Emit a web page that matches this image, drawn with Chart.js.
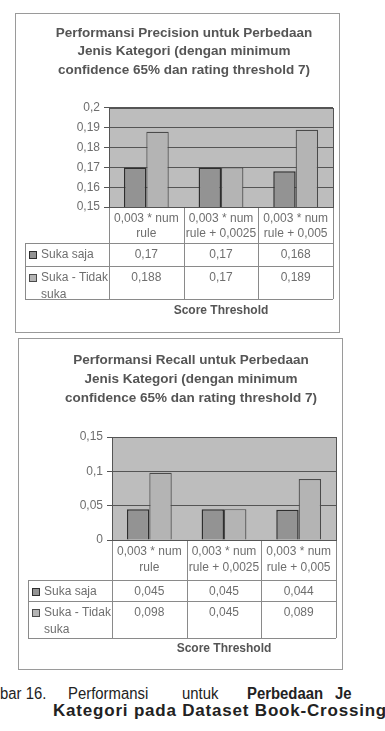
<!DOCTYPE html>
<html>
<head>
<meta charset="utf-8">
<script src="https://cdn.jsdelivr.net/npm/chart.js@4/dist/chart.umd.min.js"></script>
<style>
  body { margin: 0; background: #fff; width: 385px; height: 731px; overflow: hidden; position: relative; font-family: Arial, "Liberation Sans", sans-serif; }
  .box { position: absolute; border: 1px solid #9a9a9a; background: #fff; }
  #box1 { left: 15px; top: 13px; width: 323px; height: 318px; }
  #box2 { left: 18px; top: 338px; width: 323px; height: 330px; }
  canvas { display: block; }
  .cap { position: absolute; color: #222; white-space: nowrap; font-size: 16px; line-height: 18px; transform-origin: left center; transform: scaleX(0.93); }
  .cap.b { font-weight: bold; }
  #cap2 { left: 53px; top: 702px; font-size: 17px; font-weight: bold; letter-spacing: 0.8px; transform: none; }
</style>
</head>
<body>
<div class="box" id="box1"><canvas id="precisionChart" width="323" height="318"></canvas></div>
<div class="box" id="box2"><canvas id="recallChart" width="323" height="330"></canvas></div>

<div class="cap" style="left:0px; top:685px;">bar 16.</div>
<div class="cap" style="left:68px; top:685px;">Performansi</div>
<div class="cap" style="left:182px; top:685px;">untuk</div>
<div class="cap b" style="left:247px; top:685px;">Perbedaan</div>
<div class="cap b" style="left:335px; top:685px;">Je</div>
<div class="cap" id="cap2">Kategori pada Dataset Book-Crossing</div>

<script>
// data
const categories = [
  ["0,003 * num", "rule"],
  ["0,003 * num", "rule + 0,0025"],
  ["0,003 * num", "rule + 0,005"],
];
const seriesNames = ["Suka saja", "Suka - Tidak suka"];
const tableLabels = [["Suka saja"], ["Suka - Tidak", "suka"]];

const precisionSukaSaja = [0.17, 0.17, 0.168];
const precisionSukaTidak = [0.188, 0.17, 0.189];
const recallSukaSaja = [0.045, 0.045, 0.044];
const recallSukaTidak = [0.098, 0.045, 0.089];

const precisionTitle = [
  "Performansi Precision untuk Perbedaan",
  "Jenis Kategori (dengan minimum",
  "confidence 65% dan rating threshold 7)",
];
const recallTitle = [
  "Performansi Recall untuk Perbedaan",
  "Jenis Kategori (dengan minimum",
  "confidence 65% dan rating threshold 7)",
];
const xAxisTitle = "Score Threshold";

const FONT = 'Arial, "Liberation Sans", sans-serif';
const TEXT = "#6e6e6e";
const LINE = "#555555";

Chart.defaults.font.family = FONT;
Chart.defaults.color = TEXT;

// angka pakai koma
function fmt(v) {
  return Number(v.toFixed(3)).toString().replace(".", ",");
}

// tabel data di bawah sumbu x (legend + nilai)
const dataTable = {
  id: "dataTable",
  beforeDraw(chart, args, opts) {
    const { ctx, chartArea: a } = chart;
    ctx.save();
    ctx.fillStyle = opts.plotColor;
    ctx.fillRect(a.left, a.top, a.right - a.left, a.bottom - a.top);
    ctx.restore();
  },
  afterDraw(chart, args, opts) {
    const { ctx, chartArea: a } = chart;
    const x = chart.scales.x;
    const n = chart.data.labels.length;
    const px = (v) => Math.round(v) + 0.5;

    const edges = [a.left];
    for (let i = 0; i < n - 1; i++) {
      edges.push((x.getPixelForValue(i) + x.getPixelForValue(i + 1)) / 2);
    }
    edges.push(a.right);

    const top = a.bottom + opts.top;
    const mid = top + opts.rowHeights[0];
    const bottom = mid + opts.rowHeights[1];

    ctx.save();
    ctx.strokeStyle = opts.lineColor;
    ctx.lineWidth = 1;
    ctx.beginPath();
    edges.forEach((e) => {
      ctx.moveTo(px(e), a.bottom);
      ctx.lineTo(px(e), bottom);
    });
    [top, mid, bottom].forEach((y) => {
      ctx.moveTo(opts.left, px(y));
      ctx.lineTo(a.right, px(y));
    });
    ctx.moveTo(px(opts.left), top);
    ctx.lineTo(px(opts.left), bottom);
    ctx.stroke();

    // garis tepi area plot
    ctx.strokeStyle = LINE;
    ctx.strokeRect(px(a.left), px(a.top), Math.round(a.right - a.left), Math.round(a.bottom - a.top));

    ctx.font = "12px " + FONT;
    ctx.textBaseline = "middle";
    chart.data.datasets.forEach((ds, r) => {
      const y = (r === 0 ? top : mid) + opts.textOffset;
      ctx.fillStyle = ds.backgroundColor;
      ctx.fillRect(opts.left + 4, Math.round(y) - 4, 8, 8);
      ctx.strokeStyle = ds.borderColor;
      ctx.strokeRect(opts.left + 4.5, Math.round(y) - 3.5, 7, 7);

      ctx.fillStyle = TEXT;
      ctx.textAlign = "left";
      tableLabels[r].forEach((line, k) => {
        ctx.fillText(line, opts.left + 16, y + k * opts.lineHeight);
      });
      ctx.textAlign = "center";
      ds.data.forEach((v, i) => {
        ctx.fillText(fmt(v), x.getPixelForValue(i), y);
      });
    });
    ctx.restore();
  },
};

function makeChart(id, cfg) {
  const ctx = document.getElementById(id).getContext("2d");
  return new Chart(ctx, {
    type: "bar",
    data: {
      labels: categories,
      datasets: [
        {
          label: seriesNames[0],
          data: cfg.first,
          backgroundColor: "#939393",
          borderColor: "#2e2e2e",
          borderWidth: 1.5,
          categoryPercentage: 0.6,
          barPercentage: 1,
        },
        {
          label: seriesNames[1],
          data: cfg.second,
          backgroundColor: "#b4b4b4",
          borderColor: "#4a4a4a",
          borderWidth: 1.2,
          categoryPercentage: 0.6,
          barPercentage: 1,
        },
      ],
    },
    options: {
      responsive: false,
      animation: false,
      layout: { padding: { left: cfg.padLeft, right: 6, top: 0, bottom: cfg.padBottom } },
      plugins: {
        legend: { display: false },
        tooltip: { enabled: false },
        title: {
          display: true,
          text: cfg.title,
          color: "#555555",
          font: { size: 13.5, weight: "bold", lineHeight: cfg.titleLine },
          padding: { top: cfg.titleTop, bottom: cfg.titleBottom },
        },
        dataTable: {
          plotColor: "#bdbdbd",
          lineColor: "#8a8a8a",
          left: 9,
          top: cfg.tableTop,
          rowHeights: cfg.rowHeights,
          textOffset: 11.5,
          lineHeight: 17,
        },
      },
      scales: {
        x: {
          grid: { display: false, drawTicks: false },
          border: { display: false },
          ticks: {
            color: TEXT,
            font: { size: 12, lineHeight: cfg.labelLine },
            padding: cfg.labelPad,
            maxRotation: 0,
            autoSkip: false,
          },
          title: {
            display: true,
            text: xAxisTitle,
            color: "#555555",
            font: { size: 12, weight: "bold", lineHeight: 1.25 },
            padding: 0,
          },
          afterFit: (scale) => {
            scale.height = cfg.xHeight;
          },
        },
        y: {
          min: cfg.min,
          max: cfg.max,
          grid: { color: LINE, tickLength: 5 },
          border: { color: LINE },
          ticks: {
            stepSize: cfg.step,
            color: TEXT,
            font: { size: 12 },
            padding: 4,
            callback: (v) => fmt(v),
          },
          afterFit: (scale) => {
            scale.width = 93 - cfg.padLeft;
          },
        },
      },
    },
    plugins: [dataTable],
  });
}

makeChart("precisionChart", {
  first: precisionSukaSaja,
  second: precisionSukaTidak,
  title: precisionTitle,
  min: 0.15,
  max: 0.2,
  step: 0.01,
  padLeft: 19,
  padBottom: 13.5,
  xHeight: 111.5,
  titleLine: 1.37,
  titleTop: 9.75,
  titleBottom: 28.75,
  labelLine: 1.25,
  labelPad: 4,
  tableTop: 36,
  rowHeights: [23, 33],
});

makeChart("recallChart", {
  first: recallSukaSaja,
  second: recallSukaTidak,
  title: recallTitle,
  min: 0,
  max: 0.15,
  step: 0.05,
  padLeft: 27,
  padBottom: 12.5,
  xHeight: 116.5,
  titleLine: 1.41,
  titleTop: 11.5,
  titleBottom: 29.5,
  labelLine: 1.33,
  labelPad: 4,
  tableTop: 40,
  rowHeights: [21, 37],
});
</script>
</body>
</html>
